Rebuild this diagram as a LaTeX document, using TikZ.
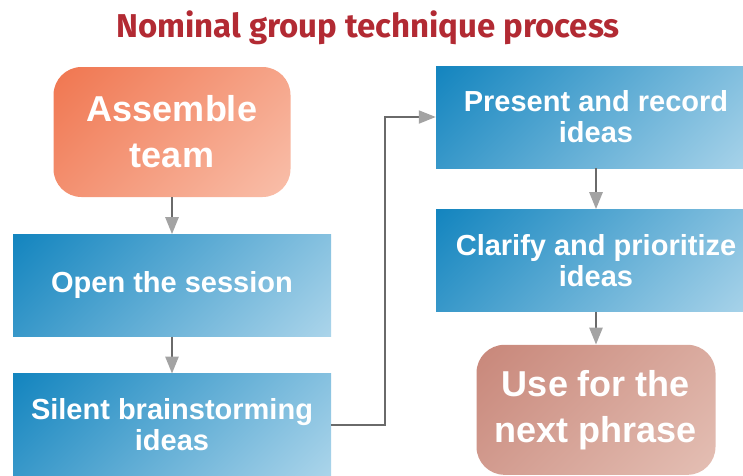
\documentclass[tikz,border=0pt]{standalone}
\usepackage{fontspec}
\setmainfont{Liberation Sans}
\newfontfamily\titlefont{Fira Sans}
\usetikzlibrary{positioning, arrows.meta}

\definecolor{titlered}{HTML}{B22A33}
\definecolor{blueA}{HTML}{1485BF}
\definecolor{blueB}{HTML}{AAD4EA}
\definecolor{orangeA}{HTML}{F07650}
\definecolor{orangeB}{HTML}{F9BFAA}
\definecolor{roseA}{HTML}{C8877A}
\definecolor{roseB}{HTML}{E4BFB4}
\definecolor{arrowgray}{HTML}{6A6A6A}
\definecolor{headgray}{HTML}{A3A3A3}

% diagonal fills, dark corner top left
\pgfdeclarehorizontalshading{bluefill}{100bp}{color(0bp)=(blueA); color(15bp)=(blueA); color(85bp)=(blueB); color(100bp)=(blueB)}
\pgfdeclarehorizontalshading{orangefill}{100bp}{color(0bp)=(orangeA); color(15bp)=(orangeA); color(85bp)=(orangeB); color(100bp)=(orangeB)}
\pgfdeclarehorizontalshading{rosefill}{100bp}{color(0bp)=(roseA); color(15bp)=(roseA); color(85bp)=(roseB); color(100bp)=(roseB)}

\tikzset{
  bluebox/.style={rectangle, minimum width=318pt, minimum height=102pt,
    shading=bluefill, shading angle=-45,
    font=\bfseries\fontsize{29}{31}\selectfont},
  roundbox/.style={rectangle, rounded corners=28pt, minimum width=237pt,
    minimum height=130pt, shading angle=-45,
    font=\bfseries\fontsize{36}{46}\selectfont},
  flowarrow/.style={draw=arrowgray, line width=2.6pt,
    -{Triangle[length=17pt, width=13pt, color=headgray, fill=headgray]}},
}

\begin{document}
\begin{tikzpicture}[x=1pt, y=-1pt, every node/.style={align=center, text=white}]
\useasboundingbox (0,0) rectangle (743,475);

\node[text=titlered, font=\titlefont\bfseries\fontsize{33}{38}\selectfont] (title) at (368,28) {Nominal group technique process};

% left column
\node[roundbox, shading=orangefill] (assemble) at (172,132) {Assemble\\team};
\node[bluebox, below=37pt of assemble] (open) {Open the session};
\node[bluebox, below=37pt of open] (silent) {Silent brainstorming\\ideas};

% right column
\node[bluebox, minimum width=320pt] (present) at (596,117) {Present and record\\ideas};
\node[bluebox, minimum width=320pt, below=41pt of present] (clarify) {Clarify and prioritize\\ideas};
\node[roundbox, minimum width=239pt, shading=rosefill, below=33pt of clarify] (use) {Use for the\\next phrase};

\draw[flowarrow] (assemble) -- (open);
\draw[flowarrow] (open) -- (silent);
\draw[flowarrow] (present) -- (clarify);
\draw[flowarrow] (clarify) -- (use);
\draw[flowarrow, line width=2pt] (silent.east) -- ++(54,0) |- (present.west);
\end{tikzpicture}
\end{document}
